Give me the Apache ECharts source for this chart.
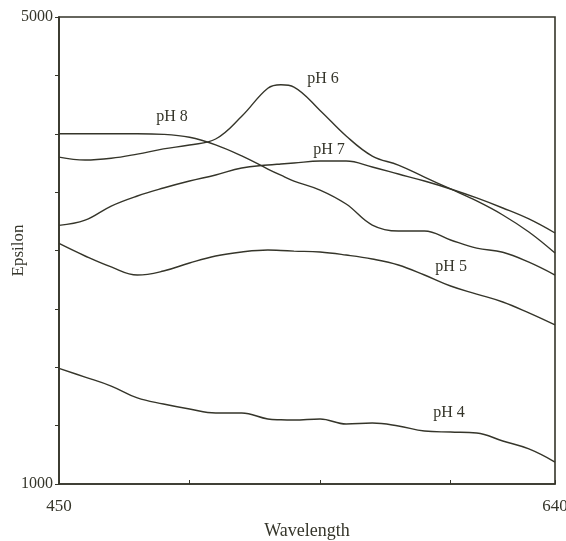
<!DOCTYPE html>
<html>
<head>
<meta charset="utf-8">
<script src="https://cdn.jsdelivr.net/npm/echarts@6/dist/echarts.min.js"></script>
<style>html,body{margin:0;padding:0;background:#fff}#c{width:566px;height:541px}</style>
</head>
<body>
<div id="c"></div>
<script>
var wavelengths = [450,460,470,480,490,500,510,520,530,535,540,550,560,570,580,590,600,610,620,630,640];
var pH4 = [1990,1916,1839,1737,1685,1642,1608,1608,1557,1550,1548,1557,1514,1522,1497,1454,1445,1437,1368,1300,1188];
var pH5 = [3060,2953,2859,2790,2824,2893,2953,2987,3004,3000,2995,2987,2961,2927,2876,2790,2696,2627,2559,2465,2362];
var pH6 = [3800,3775,3790,3826,3870,3904,3955,4150,4390,4420,4400,4200,3981,3809,3732,3629,3527,3424,3304,3158,2978];
var pH7 = [3215,3260,3381,3467,3535,3595,3647,3707,3732,3741,3749,3766,3766,3715,3655,3595,3527,3450,3364,3270,3150];
var pH8 = [4000,4000,4000,4000,3995,3970,3905,3810,3698,3645,3595,3518,3398,3218,3167,3167,3090,3020,2985,2900,2790];
var seriesNames = ["pH 4","pH 5","pH 6","pH 7","pH 8"];
var labelPos = [[599.4,1608],[600.2,2859],[551.1,4469],[553.4,3861],[493.3,4143]];
var xTickLabels = [450,640];
var yTickLabels = [1000,5000];

var ink = '#35352a';
var font = '"Liberation Serif", "DejaVu Serif", serif';
var allData = [pH4,pH5,pH6,pH7,pH8];
var series = allData.map(function(vals, i){
  return {
    name: seriesNames[i],
    type: 'line',
    smooth: 0.4,
    symbol: 'none',
    lineStyle: {color: ink, width: 1.4},
    data: wavelengths.map(function(w, j){ return [w, vals[j]]; }),
    markPoint: {
      symbol: 'circle', symbolSize: 0,
      data: [{coord: labelPos[i], value: seriesNames[i]}],
      label: {show: true, position: 'inside', formatter: seriesNames[i], color: ink, fontFamily: font, fontSize: 16}
    }
  };
});

var chart = echarts.init(document.getElementById('c'));
chart.setOption({
  backgroundColor: '#fff',
  animation: false,
  grid: {left: 59, right: 11, top: 17, bottom: 57, containLabel: false, outerBoundsMode: 'none',
    show: true, borderColor: ink, borderWidth: 1.6},
  xAxis: {
    type: 'value', min: 450, max: 640, interval: 50,
    name: 'Wavelength', nameLocation: 'middle', nameGap: 38, nameMoveOverlap: false,
    nameTextStyle: {fontFamily: font, fontSize: 18, color: ink},
    axisLine: {lineStyle: {color: ink, width: 1.6}},
    axisTick: {show: true, inside: true, length: 4, lineStyle: {color: ink}},
    splitLine: {show: false},
    axisLabel: {fontFamily: font, fontSize: 17, color: ink, margin: 14,
      formatter: function(v){ return xTickLabels.indexOf(v) >= 0 ? String(v) : ''; }}
  },
  yAxis: {
    type: 'value', min: 1000, max: 5000, interval: 500,
    name: 'Epsilon', nameLocation: 'middle', nameGap: 32, nameRotate: 90, nameMoveOverlap: false,
    nameTextStyle: {fontFamily: font, fontSize: 17, color: ink},
    axisLine: {lineStyle: {color: ink, width: 1.6}},
    axisTick: {show: true, length: 4, lineStyle: {color: ink}},
    splitLine: {show: false},
    axisLabel: {fontFamily: font, fontSize: 16, color: ink, margin: 6,
      formatter: function(v){ return yTickLabels.indexOf(v) >= 0 ? String(v) : ''; }}
  },
  series: series
});
</script>
</body>
</html>
